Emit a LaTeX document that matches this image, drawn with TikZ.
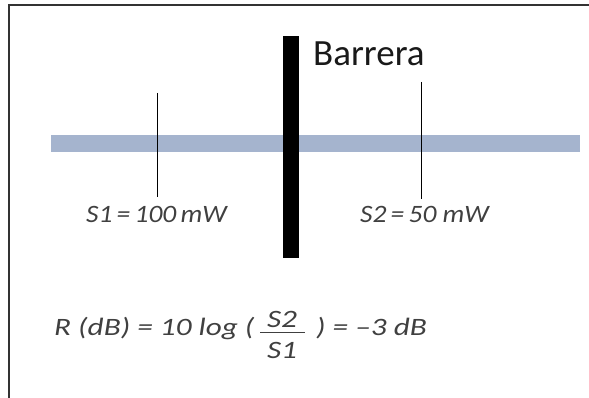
\documentclass[tikz,border=0pt]{standalone}
\usepackage{fontspec}
\setmainfont{Carlito}
\newfontfamily\handfont[FakeStretch=1.1]{Carlito}
\newfontfamily\widefont[FakeStretch=1.25]{Carlito}
\usepackage{xcolor}
\usepackage{tikz}
\usetikzlibrary{positioning}

\definecolor{bandblue}{RGB}{165,180,206}

\begin{document}
\begin{tikzpicture}[
  x=1pt, y=-1pt,
  tag/.style={inner sep=0pt, anchor=base west, text=black!75, font=\handfont\itshape\fontsize{25}{28}\selectfont},
  relation/.style={tag, font=\widefont\itshape\fontsize{25}{28}\selectfont},
  pointer/.style={line width=1pt},
  frame/.style={line width=1.3pt, draw=black!80}
]
\useasboundingbox (0,0) rectangle (589,398);
\draw[frame] (9,398) -- (9,5) -- (589,5);

% haz y barrera
\fill[bandblue] (51,135) rectangle (580,152);
\fill[black] (283,36) rectangle (299,258);
\node[inner sep=0pt, anchor=base west, text=black!90, font=\fontsize{37}{40}\selectfont] (barrera) at (313,66) {Barrera};

% marcas de potencia
\coordinate (p1top) at (157,93);
\coordinate (p1bot) at (157,197);
\coordinate (p2top) at (421.5,82);
\coordinate (p2bot) at (421.5,199);
\draw[pointer] (p1top) -- (p1bot);
\draw[pointer] (p2top) -- (p2bot);
\node[tag] (s1) at (86,223) {S1\,=\,100\,mW};
\node[tag] (s2) at (360,223) {S2\,=\,50 mW};

% relación en dB
\node[relation] (lhs) at (54,335) {R (dB) = 10 log (};
\node[relation, anchor=base] (num) at (282,327) {S2};
\node[relation, anchor=base] (den) at (282,358) {S1};
\coordinate (barl) at (260,332);
\coordinate (barr) at (305,332);
\draw[line width=1pt, black!75] (barl) -- (barr);
\node[relation] (rhs) at (316,335) {) = –3 dB};
\end{tikzpicture}
\end{document}
